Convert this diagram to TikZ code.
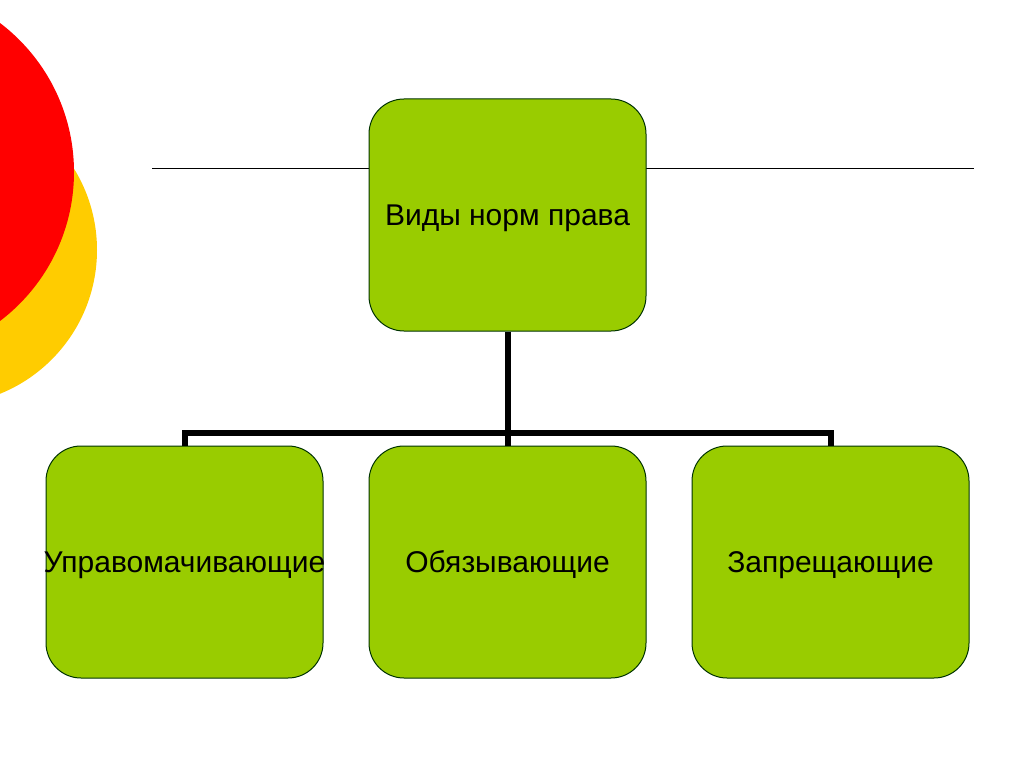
\documentclass[tikz,border=0pt]{standalone}
\usepackage{fontspec}
\setmainfont{Liberation Sans}
\definecolor{boxgreen}{HTML}{99CC00}
\definecolor{circred}{HTML}{FF0000}
\definecolor{circyellow}{HTML}{FFCC00}
\begin{document}
\begin{tikzpicture}[x=1pt,y=-1pt,
  greenbox/.style={draw=black!80!green, line width=1pt, fill=boxgreen, rounded corners=35pt,
    minimum width=277pt, minimum height=232pt, inner sep=0pt, text height=21.5pt, text depth=0pt,
    font=\fontsize{30}{34}\selectfont},
  conn/.style={line width=6pt}]
\useasboundingbox (0,0) rectangle (1024,767);
\fill[white] (0,0) rectangle (1024,767);
\begin{scope}
\clip (0,0) rectangle (1024,767);
\fill[circyellow] (-58,250) circle (155);
\fill[circred] (-113,172) circle (187);
\end{scope}
\coordinate (lineL) at (152,169);
\coordinate (lineR) at (974,169);
\draw[line width=1pt] (lineL) -- (lineR);
\node[greenbox] (top) at (507.5,215) {Виды норм права};
\node[greenbox] (b1) at (184.5,562) {\makebox[0pt][c]{Управомачивающие}};
\node[greenbox] (b2) at (507.5,562) {Обязывающие};
\node[greenbox] (b3) at (830.5,562) {Запрещающие};
\coordinate (bar) at (507.5,433);
\draw[conn] (top.south) -- (b2.north);
\draw[conn] (b1.north) -- (b1.north |- bar) -- (b3.north |- bar) -- (b3.north);
\end{tikzpicture}
\end{document}
